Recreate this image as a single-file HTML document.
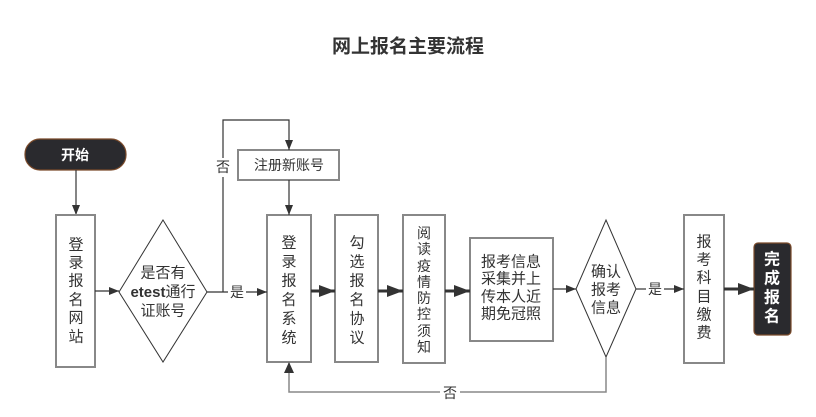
<!DOCTYPE html>
<html><head><meta charset="utf-8"><style>
html,body{margin:0;padding:0;background:#fff;}
svg{display:block;}
text{font-family:"Liberation Sans","Noto Sans CJK SC",sans-serif;fill:#333;}
</style></head><body>
<svg width="816" height="417" viewBox="0 0 816 417" xmlns="http://www.w3.org/2000/svg">
<defs>
<marker id="a" markerWidth="10" markerHeight="8" refX="10" refY="4" orient="auto" markerUnits="userSpaceOnUse"><path d="M0,0 L10,4 L0,8 Z" fill="#333"/></marker>
<marker id="b" markerWidth="16" markerHeight="12" refX="16" refY="6" orient="auto" markerUnits="userSpaceOnUse"><path d="M0,0 L16,6 L0,12 Z" fill="#333"/></marker>
</defs>
<text x="408" y="47" text-anchor="middle" dominant-baseline="central" font-size="19" font-weight="bold">网上报名主要流程</text>

<rect x="25" y="139" width="101" height="31" rx="15" fill="#2a2a2e" stroke="#7a4a2a" stroke-width="1.2"/>
<text x="75" y="155" text-anchor="middle" dominant-baseline="central" font-size="14" font-weight="bold" style="fill:#fff">开始</text>
<line x1="76" y1="170" x2="76" y2="215" stroke="#333" stroke-width="1.2" marker-end="url(#a)"/>

<g fill="#fff" stroke="#888" stroke-width="2">
<rect x="56" y="215" width="39" height="152"/>
<rect x="238" y="150" width="101" height="30"/>
<rect x="267" y="215" width="44" height="147"/>
<rect x="335" y="215" width="43" height="147"/>
<rect x="403" y="215" width="42" height="148"/>
<rect x="470" y="238" width="83" height="103"/>
<rect x="684" y="215" width="40" height="148"/>
</g>
<polygon points="163,220 207,292 163,362 119,292" fill="#fff" stroke="#333" stroke-width="1"/>
<polygon points="606,220 636,289 606,357 576,289" fill="#fff" stroke="#333" stroke-width="1"/>
<rect x="754" y="243" width="37" height="92" rx="4" fill="#2a2a2e" stroke="#7a4a2a" stroke-width="1.2"/>

<g stroke="#333" stroke-width="1.2" fill="none">
<line x1="95" y1="291" x2="119" y2="291" marker-end="url(#a)"/>
<line x1="207" y1="292" x2="228" y2="292"/>
<line x1="246" y1="292" x2="267" y2="292" marker-end="url(#a)"/>
<polyline points="223,292 223,177"/>
<polyline points="223,158 223,120 289,120 289,150" marker-end="url(#a)"/>
<line x1="289" y1="180" x2="289" y2="215" marker-end="url(#a)"/>
<line x1="553" y1="289" x2="576" y2="289" marker-end="url(#a)"/>
<line x1="636" y1="289" x2="646" y2="289"/>
<line x1="664" y1="289" x2="684" y2="289" marker-end="url(#a)"/>
</g>
<g stroke="#888" stroke-width="1.5" fill="none">
<polyline points="606,357 606,392 460,392"/>
<polyline points="440,392 289,392 289,362"/>
</g>
<path d="M284,373 L289,362 L294,373 Z" fill="#333"/>
<g stroke="#333" stroke-width="3">
<line x1="311" y1="291" x2="335" y2="291" marker-end="url(#b)"/>
<line x1="378" y1="291" x2="403" y2="291" marker-end="url(#b)"/>
<line x1="445" y1="291" x2="470" y2="291" marker-end="url(#b)"/>
<line x1="724" y1="289" x2="754" y2="289" marker-end="url(#b)"/>
</g>

<g font-size="14" text-anchor="middle" dominant-baseline="central">
<text x="223" y="167">否</text>
<text x="237" y="292">是</text>
<text x="655" y="289">是</text>
<text x="450" y="393">否</text>
<text x="289" y="165">注册新账号</text>
</g>

<g font-size="15" text-anchor="middle" dominant-baseline="central">
<text x="76" y="245">登</text><text x="76" y="263">录</text><text x="76" y="281">报</text><text x="76" y="300">名</text><text x="76" y="318">网</text><text x="76" y="337">站</text>
<text x="289" y="243">登</text><text x="289" y="262">录</text><text x="289" y="281">报</text><text x="289" y="300">名</text><text x="289" y="319">系</text><text x="289" y="338">统</text>
<text x="357" y="243">勾</text><text x="357" y="262">选</text><text x="357" y="281">报</text><text x="357" y="300">名</text><text x="357" y="319">协</text><text x="357" y="338">议</text>
<text x="704" y="242">报</text><text x="704" y="260">考</text><text x="704" y="278">科</text><text x="704" y="297">目</text><text x="704" y="315">缴</text><text x="704" y="333">费</text>
<text x="163" y="273">是否有</text><text x="163" y="292"><tspan font-weight="bold">etest</tspan>通行</text><text x="163" y="311">证账号</text>
<text x="606" y="272">确认</text><text x="606" y="290">报考</text><text x="606" y="308">信息</text>
<text x="511" y="262">报考信息</text><text x="511" y="279">采集并上</text><text x="511" y="297">传本人近</text><text x="511" y="314">期免冠照</text>
</g>
<g font-size="14" text-anchor="middle" dominant-baseline="central">
<text x="424" y="233">阅</text><text x="424" y="249">读</text><text x="424" y="266">疫</text><text x="424" y="282">情</text><text x="424" y="298">防</text><text x="424" y="314">控</text><text x="424" y="331">须</text><text x="424" y="347">知</text>
</g>
<g font-size="16" font-weight="bold" text-anchor="middle" dominant-baseline="central">
<text x="772" y="260" style="fill:#fff">完</text><text x="772" y="279" style="fill:#fff">成</text><text x="772" y="298" style="fill:#fff">报</text><text x="772" y="317" style="fill:#fff">名</text>
</g>
</svg>
</body></html>
